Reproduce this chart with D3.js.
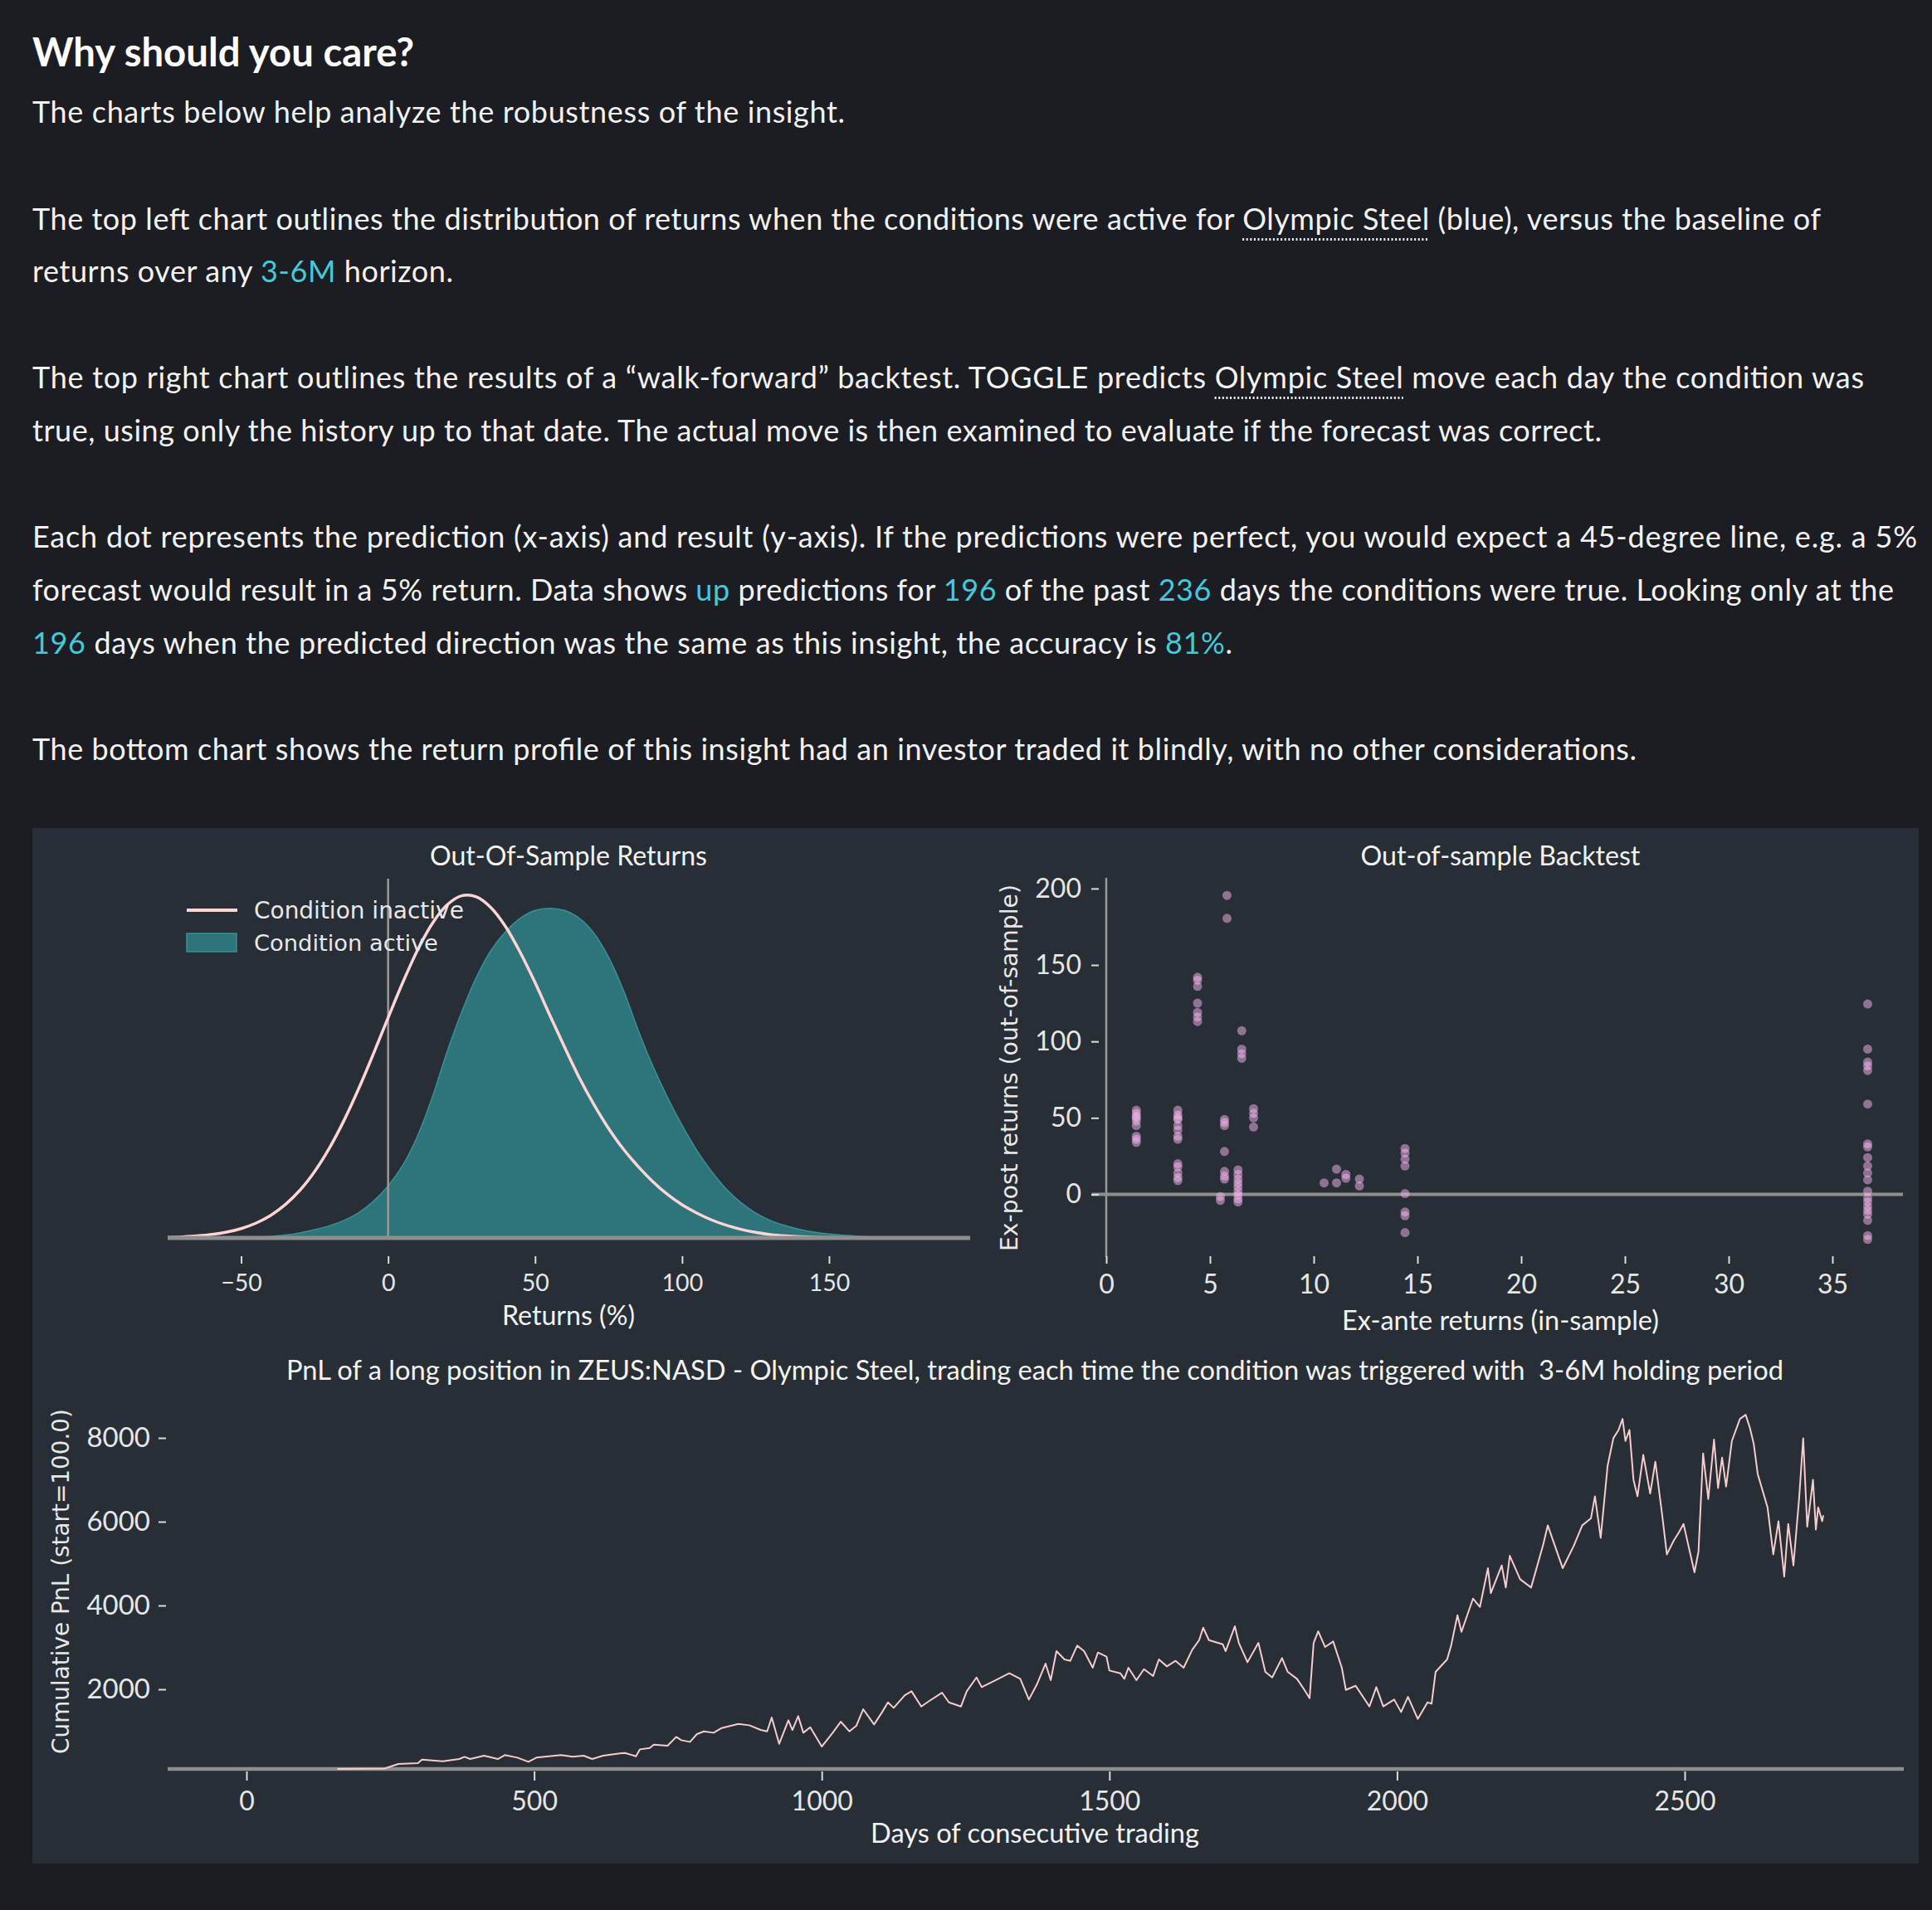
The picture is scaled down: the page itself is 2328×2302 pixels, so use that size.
<!DOCTYPE html>
<html><head><meta charset="utf-8">
<script src="https://cdn.jsdelivr.net/npm/d3@7"></script>
<style>
html,body{margin:0;padding:0;background:#1b1d22;}
svg{display:block;}
</style></head><body>
<svg id="c" width="2328" height="2302"></svg>
<script>
// ---------------- DATA ----------------
const titleText = "Why should you care?";
const textLines = [
  [["The charts below help analyze the robustness of the insight.","n"]],
  [["The top left chart outlines the distribution of returns when the conditions were active for ","n"],["Olympic Steel","u"],[" (blue), versus the baseline of","n"]],
  [["returns over any ","n"],["3-6M","c"],[" horizon.","n"]],
  [["The top right chart outlines the results of a \u201cwalk-forward\u201d backtest. TOGGLE predicts ","n"],["Olympic Steel","u"],[" move each day the condition was","n"]],
  [["true, using only the history up to that date. The actual move is then examined to evaluate if the forecast was correct.","n"]],
  [["Each dot represents the prediction (x-axis) and result (y-axis). If the predictions were perfect, you would expect a 45-degree line, e.g. a 5%","n"]],
  [["forecast would result in a 5% return. Data shows ","n"],["up","c"],[" predictions for ","n"],["196","c"],[" of the past ","n"],["236","c"],[" days the conditions were true. Looking only at the","n"]],
  [["196","c"],[" days when the predicted direction was the same as this insight, the accuracy is ","n"],["81%","c"],[".","n"]],
  [["The bottom chart shows the return profile of this insight had an investor traded it blindly, with no other considerations.","n"]]
];

// Chart 1: density of returns (%), x grid and density values (x1000)
const densX = [-75,-70,-65,-60,-55,-50,-45,-40,-35,-30,-25,-20,-15,-10,-5,0,5,10,15,20,25,30,35,40,45,50,55,60,65,70,75,80,85,90,95,100,105,110,115,120,125,130,135,140,145,150,155,160,165,170,175,180,185,190,195];
const inactiveDens = [0.024,0.044,0.078,0.134,0.224,0.363,0.571,0.871,1.289,1.849,2.575,3.478,4.558,5.79,7.14,8.54,9.91,11.16,12.19,12.91,13.27,13.23,12.81,12.07,11.06,9.90,8.64,7.41,6.22,5.18,4.25,3.45,2.78,2.19,1.69,1.285,0.966,0.70,0.494,0.335,0.215,0.132,0.08,0.047,0.027,0.016,0.009,0.005,0.003,0.001,0,0,0,0,0];
const activeDens = [0,0,0.002,0.004,0.008,0.016,0.032,0.059,0.109,0.196,0.32,0.47,0.68,0.98,1.42,2.02,2.82,3.95,5.45,7.2,8.75,10.1,11.15,11.88,12.4,12.7,12.78,12.70,12.40,11.82,10.89,9.62,8.08,6.68,5.46,4.37,3.40,2.58,1.90,1.37,0.97,0.68,0.48,0.333,0.227,0.153,0.102,0.067,0.043,0.027,0.017,0.01,0.006,0.003,0.001];
const returnTicks = [-50,0,50,100,150];
const legendLabels = ["Condition inactive","Condition active"];

// Chart 2: backtest scatter [ex-ante, ex-post]
const backtestPoints = [
 [1.45,55],[1.45,53],[1.45,51],[1.45,50],[1.45,48],[1.45,45],[1.45,38],[1.45,36],[1.45,34],
 [3.45,55],[3.45,52],[3.45,50],[3.45,49],[3.45,45],[3.45,42],[3.45,38],[3.45,36],[3.45,20],[3.45,18],[3.45,14],[3.45,11],[3.45,9],
 [4.4,142],[4.4,140],[4.4,136],[4.4,125],[4.4,119],[4.4,116],[4.4,113],
 [5.5,-1.5],[5.5,-4],
 [5.7,49],[5.7,47],[5.7,45],[5.7,28],[5.7,15],[5.7,12],[5.7,10],
 [5.82,195.5],[5.82,180.5],
 [6.35,16],[6.35,13],[6.35,10],[6.35,7.5],[6.35,5],[6.35,2],[6.35,-0.5],[6.35,-3],[6.35,-5],
 [6.53,107],[6.53,95],[6.53,92],[6.53,89],
 [7.1,56],[7.1,53],[7.1,50],[7.1,44],
 [10.5,7.5],[11.1,16.5],[11.1,7.5],[11.55,13],[11.55,10.5],[12.2,10],[12.2,5.5],
 [14.4,30],[14.4,27],[14.4,23],[14.4,18.5],[14.4,0.5],[14.4,-11.5],[14.4,-14],[14.4,-25],
 [36.7,124.5],[36.7,95],[36.7,86.5],[36.7,84],[36.7,81],[36.7,59],[36.7,33],[36.7,31],[36.7,24],[36.7,18.5],[36.7,14],[36.7,9.5],[36.7,2],[36.7,-2.5],[36.7,-5],[36.7,-8],[36.7,-10.5],[36.7,-13],[36.7,-17],[36.7,-27],[36.7,-29.5]
];
const exAnteTicks = [0,5,10,15,20,25,30,35];
const exPostTicks = [0,50,100,150,200];

// Chart 3: cumulative PnL [day, value]
const pnlSeries = [
 [158,100],[240,110],[264,217],[298,237],[305,323],[341,283],[370,336],[379,389],[389,336],[413,415],[437,336],[449,429],[471,369],[490,270],[504,369],[547,429],[567,389],[586,415],[601,336],[620,415],[649,468],[658,481],[677,402],[684,567],[701,600],[708,679],[732,653],[747,864],[756,785],[771,745],[783,930],[795,996],
 [812,963],[826,1075],[855,1174],[874,1141],[894,1029],[905,996],[913,1326],[926,699],[942,1260],[949,1029],[959,1359],[968,963],[980,1095],[1000,633],[1019,963],[1033,1227],[1048,996],[1060,1128],[1072,1524],[1091,1161],[1105,1458],[1115,1689],[1125,1557],[1144,1854],[1156,1953],[1173,1590],[1187,1722],[1209,1920],[1221,1689],[1242,1590],[1252,1953],[1269,2283],[1278,2052],[1302,2217],[1326,2382],[1345,2250],[1360,1755],[1374,2118],[1389,2613],[1398,2217],[1408,2910],[1422,2712],[1432,2679],[1444,3042],
 [1456,2910],[1471,2514],[1480,2877],[1495,2778],[1500,2448],[1519,2382],[1526,2250],[1533,2514],[1547,2217],[1560,2481],[1576,2316],[1586,2712],[1600,2547],[1615,2679],[1629,2514],[1644,2943],[1656,3174],[1663,3471],[1673,3174],[1697,3075],[1702,2910],[1718,3504],[1725,3108],[1740,2646],[1759,3108],[1771,2415],[1783,2283],[1800,2745],[1810,2415],[1826,2250],[1839,1986],[1848,1788],[1855,3108],[1863,3385],[1875,3009],[1889,3141],[1904,2514],[1911,1986],[1928,2085],[1952,1590],[1964,2052],[1976,1590],[1995,1755],[2007,1458],[2019,1821],[2036,1293],[2053,1689],[2060,1656],[2067,2415],[2087,2712],[2094,3042],
 [2105,3768],[2112,3372],[2132,4164],[2144,3966],[2158,4890],[2163,4296],[2182,4956],[2189,4428],[2196,5187],[2214,4626],[2233,4428],[2254,5451],[2262,5913],[2288,4890],[2307,5418],[2322,5913],[2337,6078],[2344,6606],[2354,5616],[2366,7332],[2376,7992],[2385,8190],[2392,8454],[2397,7926],[2404,8190],[2411,7002],[2418,6606],[2428,7596],[2440,6672],[2449,7431],[2461,6144],[2469,5220],[2481,5550],[2490,5748],[2498,5946],[2517,4791],[2524,5286],[2532,7629],[2541,6540],[2551,7959],[2558,6804],[2565,7530],[2572,6837],[2582,7926],[2596,8454],[2606,8553],[2613,8256],[2620,7860],[2627,7134],[2644,6342],[2654,5220],[2663,6012],[2673,4692],[2680,5946],[2689,4956],[2699,6573],[2706,7992],[2713,5880],[2723,7002],[2728,5814],[2732,6342],[2739,6012],[2741,6150]
];
const dayTicks = [0,500,1000,1500,2000,2500];
const pnlTicks = [2000,4000,6000,8000];

// ---------------- STYLE ----------------
const TXT = "#f2f2f2", CYAN = "#45c9da", GRID = "#8e8e8e", TICKC = "#dcdcdc";
const PINK = "#ffd4d4", TEAL = "#2e757b", TEAL_EDGE = "#3b8f96", DOT = "#f7b6f2";
const SANS = "Lato, 'Open Sans', sans-serif", DJ = "'DejaVu Sans', sans-serif";
const fmt = d3.format("d");

const svg = d3.select("#c");

function fitWidth(sel, w){
  const n = sel.node(); const l = n.getComputedTextLength();
  const fs = parseFloat(sel.attr("font-size"));
  if (l > 0) sel.attr("font-size", fs * w / l);
  return sel;
}

// ---------------- TEXT BLOCK ----------------
const tX = 39;
fitWidth(svg.append("text").attr("x", tX).attr("y", 80).attr("font-family", SANS)
  .attr("font-weight", 700).attr("font-size", 44).attr("fill", "#ffffff").text(titleText), 460);

const lineY = [148, 277, 340, 468, 532, 660, 724, 788, 916];
const lineW = [979, 2155, 507, 2207, 1891, 2271, 2243, 1446, 1933];
textLines.forEach((segs, i) => {
  const t = svg.append("text").attr("x", tX).attr("y", lineY[i]).attr("font-family", SANS)
    .attr("font-size", 36).attr("fill", TXT).attr("xml:space", "preserve");
  segs.forEach(s => {
    t.append("tspan").text(s[0]).attr("fill", s[1] === "c" ? CYAN : TXT);
  });
  t.attr("textLength", lineW[i]).attr("lengthAdjust", "spacing");
  let idx = 0;
  segs.forEach(s => {
    if (s[1] === "u") {
      const n = t.node();
      const a = n.getStartPositionOfChar(idx).x;
      const b = n.getEndPositionOfChar(idx + s[0].length - 1).x;
      svg.append("line").attr("x1", a).attr("x2", b).attr("y1", lineY[i] + 11.5).attr("y2", lineY[i] + 11.5)
        .attr("stroke", "#f0f0f0").attr("stroke-width", 3).attr("stroke-dasharray", "2,2.6");
    }
    idx += s[0].length;
  });
});

// ---------------- PANEL ----------------
svg.append("rect").attr("x", 39).attr("y", 998).attr("width", 2273).attr("height", 1248).attr("fill", "#282e35");

function styleAxis(g, fs){
  g.select(".domain").remove();
  g.selectAll(".tick line").attr("stroke", TICKC).attr("stroke-width", 2);
  g.selectAll(".tick text").attr("fill", "#e6e6e6").attr("font-family", SANS).attr("font-size", fs);
}

// ---------------- CHART 1 ----------------
const dens = densX.map((x, i) => ({x, a: activeDens[i], n: inactiveDens[i]}));
const x1 = d3.scaleLinear().domain([-75, 198]).range([202, 1169]);
const y1 = d3.scaleLinear().domain([0, d3.max(inactiveDens) * 1.05]).range([1492, 1059]);
const curve1 = d3.curveCatmullRom.alpha(0.5);

const c1 = svg.append("g");
c1.append("path").datum(dens)
  .attr("d", d3.area().x(d => x1(d.x)).y0(y1(0)).y1(d => y1(d.a)).curve(curve1))
  .attr("fill", TEAL).attr("stroke", TEAL_EDGE).attr("stroke-width", 1.5);
c1.append("line").attr("x1", x1(0)).attr("x2", x1(0)).attr("y1", y1.range()[1]).attr("y2", y1(0))
  .attr("stroke", "#9a9a9a").attr("stroke-width", 2.5);
c1.append("path").datum(dens)
  .attr("d", d3.line().x(d => x1(d.x)).y(d => y1(d.n)).curve(curve1))
  .attr("fill", "none").attr("stroke", PINK).attr("stroke-width", 3.5);
c1.append("line").attr("x1", x1.range()[0]).attr("x2", x1.range()[1]).attr("y1", y1(0)).attr("y2", y1(0))
  .attr("stroke", GRID).attr("stroke-width", 5);
const ax1 = c1.append("g").attr("transform", "translate(0,1514)")
  .call(d3.axisBottom(x1).tickValues(returnTicks).tickFormat(fmt).tickSize(9).tickPadding(13));
styleAxis(ax1, 28.5);
fitWidth(c1.append("text").attr("x", 685).attr("y", 1043).attr("text-anchor", "middle")
  .attr("font-family", SANS).attr("font-size", 32).attr("fill", TXT).text("Out-Of-Sample Returns"), 334);
fitWidth(c1.append("text").attr("x", 685).attr("y", 1597).attr("text-anchor", "middle")
  .attr("font-family", SANS).attr("font-size", 32).attr("fill", TXT).text("Returns (%)"), 160);
// legend
c1.append("line").attr("x1", 225).attr("x2", 286).attr("y1", 1097).attr("y2", 1097)
  .attr("stroke", PINK).attr("stroke-width", 4);
c1.append("rect").attr("x", 225).attr("y", 1125).attr("width", 60).attr("height", 22)
  .attr("fill", TEAL).attr("stroke", TEAL_EDGE).attr("stroke-width", 1.5);
legendLabels.forEach((l, i) => {
  fitWidth(c1.append("text").attr("x", 306).attr("y", i ? 1146 : 1107).attr("font-family", DJ)
    .attr("font-size", 27).attr("fill", "#e8e8e8").text(l), i ? 222 : 253);
});

// ---------------- CHART 2 ----------------
const x2 = d3.scaleLinear().domain([0, 38.4]).range([1333, 2293]);
const y2 = d3.scaleLinear().domain([-41, 207]).range([1515, 1058]);
const c2 = svg.append("g");
c2.append("line").attr("x1", x2(0)).attr("x2", x2(0)).attr("y1", y2.range()[1]).attr("y2", y2.range()[0])
  .attr("stroke", "#9a9a9a").attr("stroke-width", 2.5);
c2.append("line").attr("x1", x2(-0.7)).attr("x2", x2.range()[1]).attr("y1", y2(0)).attr("y2", y2(0))
  .attr("stroke", GRID).attr("stroke-width", 4);
c2.append("g").selectAll("circle").data(backtestPoints).join("circle")
  .attr("cx", d => x2(d[0])).attr("cy", d => y2(d[1])).attr("r", 5.5)
  .attr("fill", DOT).attr("fill-opacity", 0.5);
const ax2 = c2.append("g").attr("transform", "translate(0,1514)")
  .call(d3.axisBottom(x2).tickValues(exAnteTicks).tickFormat(fmt).tickSize(9).tickPadding(13));
styleAxis(ax2, 32);
const ay2 = c2.append("g").attr("transform", "translate(1324,0)")
  .call(d3.axisLeft(y2).tickValues(exPostTicks).tickFormat(fmt).tickSize(9).tickPadding(12));
styleAxis(ay2, 32);
fitWidth(c2.append("text").attr("x", 1808).attr("y", 1043).attr("text-anchor", "middle")
  .attr("font-family", SANS).attr("font-size", 32).attr("fill", TXT).text("Out-of-sample Backtest"), 337);
fitWidth(c2.append("text").attr("x", 1808).attr("y", 1603).attr("text-anchor", "middle")
  .attr("font-family", SANS).attr("font-size", 32).attr("fill", TXT).text("Ex-ante returns (in-sample)"), 382);
fitWidth(c2.append("text").attr("transform", "translate(1226,1287) rotate(-90)").attr("text-anchor", "middle")
  .attr("font-family", DJ).attr("font-size", 28).attr("fill", "#e8e8e8").text("Ex-post returns (out-of-sample)"), 442);

// ---------------- CHART 3 ----------------
const x3 = d3.scaleLinear().domain([0, 2500]).range([297, 2030]);
const y3 = d3.scaleLinear().domain([0, 8000]).range([2137, 1733]);
const c3 = svg.append("g");
c3.append("line").attr("x1", 202).attr("x2", 2294).attr("y1", y3(100)).attr("y2", y3(100))
  .attr("stroke", GRID).attr("stroke-width", 4.5);
c3.append("path").datum(pnlSeries)
  .attr("d", d3.line().x(d => x3(d[0])).y(d => y3(d[1])))
  .attr("fill", "none").attr("stroke", "#f6cccc").attr("stroke-width", 2).attr("stroke-linejoin", "round");
const ax3 = c3.append("g").attr("transform", "translate(0,2135)")
  .call(d3.axisBottom(x3).tickValues(dayTicks).tickFormat(fmt).tickSize(11).tickPadding(13));
styleAxis(ax3, 32);
const ay3 = c3.append("g").attr("transform", "translate(200,0)")
  .call(d3.axisLeft(y3).tickValues(pnlTicks).tickFormat(fmt).tickSize(9).tickPadding(10));
styleAxis(ay3, 33);
fitWidth(c3.append("text").attr("x", 1247).attr("y", 1663).attr("text-anchor", "middle")
  .attr("font-family", SANS).attr("font-size", 32).attr("fill", TXT).attr("xml:space", "preserve")
  .text("PnL of a long position in ZEUS:NASD - Olympic Steel, trading each time the condition was triggered with  3-6M holding period"), 1805);
fitWidth(c3.append("text").attr("x", 1247).attr("y", 2221).attr("text-anchor", "middle")
  .attr("font-family", SANS).attr("font-size", 32).attr("fill", TXT).text("Days of consecutive trading"), 396);
fitWidth(c3.append("text").attr("transform", "translate(83,1906) rotate(-90)").attr("text-anchor", "middle")
  .attr("font-family", DJ).attr("font-size", 28).attr("fill", "#e8e8e8").text("Cumulative PnL (start=100.0)"), 416);
</script>
</body></html>
